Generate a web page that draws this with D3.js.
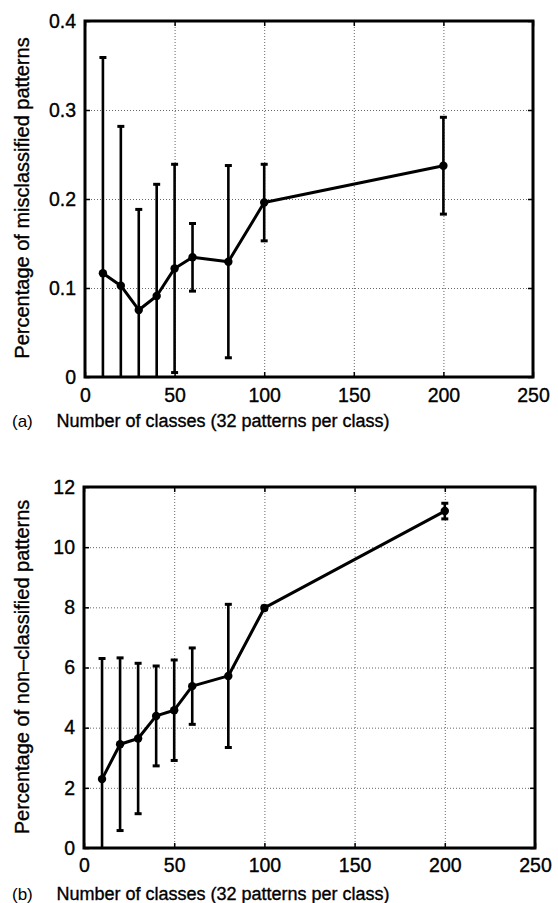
<!DOCTYPE html>
<html>
<head>
<meta charset="utf-8">
<script src="https://cdn.jsdelivr.net/npm/d3@7"></script>
<style>
  body { margin: 0; background: #fff; }
  svg { display: block; font-family: "Liberation Sans", Arial, sans-serif; }
  svg text { stroke: #000; stroke-width: 0.35px; }
  .grid line { stroke: #555; stroke-width: 0.9; stroke-dasharray: 1,2; }
  .grid path { display: none; }
  .tk path { display: none; }
  .tk line { stroke: #000; stroke-width: 1.5; }
  .tk text { fill: #000; font-size: 19.5px; }
</style>
</head>
<body>
<svg id="chart" width="558" height="903"></svg>
<script>
// x positions shared by both panels
var classes = [10, 20, 30, 40, 50, 60, 80, 100, 200];

// (a) misclassified patterns: mean and half error bar
var misMean = [0.1165, 0.1026, 0.0753, 0.091, 0.122, 0.1345, 0.1296, 0.196, 0.2374];
var misErr  = [0.2425, 0.179, 0.113, 0.1255, 0.117, 0.038, 0.108, 0.043, 0.0544];

// (b) non-classified patterns: mean and half error bar
var nonMean = [2.29, 3.45, 3.64, 4.39, 4.58, 5.38, 5.72, 7.98, 11.2];
var nonErr  = [4.01, 2.87, 2.5, 1.66, 1.67, 1.27, 2.38, 0.06, 0.26];

var xTicks = [0, 50, 100, 150, 200, 250];
var misTicks = [0, 0.1, 0.2, 0.3, 0.4];
var nonTicks = [0, 2, 4, 6, 8, 10, 12];

var xLabel = "Number of classes (32 patterns per class)";

var svg = d3.select("#chart");

/**
 * Draw one MATLAB-style errorbar panel
 */
function drawPanel(opt) {
    var w = opt.right - opt.left;
    var h = opt.bottom - opt.top;

    var x = d3.scaleLinear().domain([0, 250]).range([0, w]);
    var y = d3.scaleLinear().domain(opt.yDomain).range([h, 0]);

    var g = svg.append("g")
        .attr("transform", "translate(" + opt.left + "," + opt.top + ")");

    g.append("clipPath").attr("id", opt.id + "-clip")
        .append("rect").attr("width", w).attr("height", h);

    // dotted grid
    g.append("g").attr("class", "grid")
        .call(d3.axisBottom(x).tickValues(xTicks).tickSize(h).tickFormat(""));
    g.append("g").attr("class", "grid")
        .call(d3.axisLeft(y).tickValues(opt.yTicks).tickSize(-w).tickFormat(""));

    // inward ticks on all four sides
    g.append("g").attr("class", "tk")
        .attr("transform", "translate(0," + h + ")")
        .call(d3.axisBottom(x).tickValues(xTicks).tickSize(-5).tickPadding(opt.xPad).tickFormat(d3.format("~g")));
    g.append("g").attr("class", "tk")
        .call(d3.axisTop(x).tickValues(xTicks).tickSize(-5).tickFormat(""));
    g.append("g").attr("class", "tk")
        .call(d3.axisLeft(y).tickValues(opt.yTicks).tickSize(-5).tickPadding(9).tickFormat(d3.format("~g")));
    g.append("g").attr("class", "tk")
        .attr("transform", "translate(" + w + ",0)")
        .call(d3.axisRight(y).tickValues(opt.yTicks).tickSize(-5).tickFormat(""));

    var pts = classes.map(function(c, i) {
        return { x: c, m: opt.mean[i], e: opt.err[i] };
    });

    var bars = g.append("g").attr("clip-path", "url(#" + opt.id + "-clip)");

    // error bars
    bars.selectAll(".eb").data(pts).enter().append("line")
        .attr("x1", function(d) { return x(d.x); })
        .attr("x2", function(d) { return x(d.x); })
        .attr("y1", function(d) { return y(d.m - d.e); })
        .attr("y2", function(d) { return y(d.m + d.e); })
        .style("stroke", "#000").style("stroke-width", 2.6);

    [1, -1].forEach(function(s) {
        bars.selectAll(".cap" + s).data(pts).enter().append("line")
            .attr("x1", function(d) { return x(d.x) - 3.5; })
            .attr("x2", function(d) { return x(d.x) + 3.5; })
            .attr("y1", function(d) { return y(d.m + s * d.e); })
            .attr("y2", function(d) { return y(d.m + s * d.e); })
            .style("stroke", "#000").style("stroke-width", 3);
    });

    // mean line
    var line = d3.line()
        .x(function(d) { return x(d.x); })
        .y(function(d) { return y(d.m); });

    bars.append("path").datum(pts)
        .attr("d", line)
        .style("fill", "none").style("stroke", "#000")
        .style("stroke-width", 3).style("stroke-linejoin", "round");

    bars.selectAll(".dot").data(pts).enter().append("circle")
        .attr("cx", function(d) { return x(d.x); })
        .attr("cy", function(d) { return y(d.m); })
        .attr("r", 4.2).style("fill", "#000");

    // frame
    g.append("rect").attr("width", w).attr("height", h)
        .style("fill", "none").style("stroke", "#000").style("stroke-width", 3);

    // labels
    svg.append("text")
        .attr("transform", "translate(" + opt.yLabelX + "," + opt.yLabelY + ") rotate(-90)")
        .attr("text-anchor", "middle")
        .style("font-size", "20px")
        .text(opt.yLabel);

    svg.append("text")
        .attr("x", 223).attr("y", opt.xLabelY)
        .attr("text-anchor", "middle")
        .style("font-size", "18px")
        .text(xLabel);

    svg.append("text")
        .attr("x", 12).attr("y", opt.xLabelY)
        .style("font-size", "17px")
        .style("stroke-width", "0")
        .text(opt.tag);
}

drawPanel({
    id: "a", left: 85, right: 533, top: 21, bottom: 377,
    yDomain: [0, 0.4], yTicks: misTicks,
    mean: misMean, err: misErr, xPad: 11,
    yLabel: "Percentage of misclassified patterns", yLabelX: 29, yLabelY: 198,
    xLabelY: 427, tag: "(a)"
});

drawPanel({
    id: "b", left: 84, right: 535, top: 487, bottom: 848,
    yDomain: [0, 12], yTicks: nonTicks,
    mean: nonMean, err: nonErr, xPad: 10,
    yLabel: "Percentage of non\u2013classified patterns", yLabelX: 29, yLabelY: 667,
    xLabelY: 900, tag: "(b)"
});
</script>
</body>
</html>
